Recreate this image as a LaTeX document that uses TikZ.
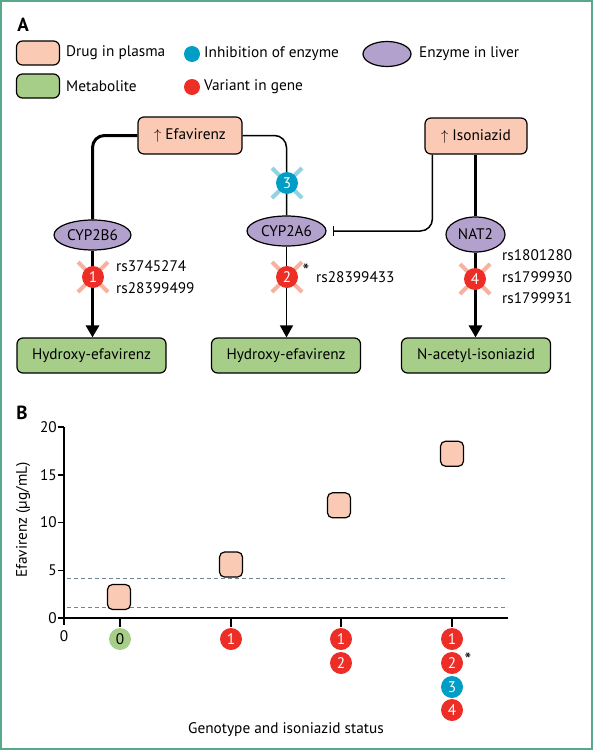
\documentclass[tikz,border=0pt]{standalone}
\usepackage{fontspec}
\setmainfont{PT Sans}
\usepackage{tikz}
\usetikzlibrary{shapes,arrows.meta,positioning}

\definecolor{plasmafill}{RGB}{250,202,180}
\definecolor{metafill}{RGB}{167,206,137}
\definecolor{liverfill}{RGB}{179,161,205}
\definecolor{varred}{RGB}{236,46,38}
\definecolor{inhblue}{RGB}{0,158,196}
\definecolor{varcross}{RGB}{246,178,158}
\definecolor{inhcross}{RGB}{146,211,226}
\definecolor{framegreen}{RGB}{88,168,138}
\definecolor{guidegray}{RGB}{110,135,150}

\begin{document}
\begin{tikzpicture}[x=1pt,y=-1pt,font=\fontsize{15.3}{21.5}\selectfont,
  drugbox/.style={draw,line width=1.2pt,rounded corners=6pt,fill=plasmafill,inner sep=0pt},
  metabox/.style={drugbox,fill=metafill},
  enzyme/.style={ellipse,draw,line width=1.2pt,fill=liverfill,inner sep=0pt},
  varnum/.style={circle,fill=varred,text=white,minimum size=22pt,inner sep=0pt},
  inhnum/.style={varnum,fill=inhblue},
  metnum/.style={varnum,fill=metafill,text=black},
  lbl/.style={anchor=west,inner sep=0pt,align=left},
  xmark/.style={line width=4pt,varcross},
  thickline/.style={line width=3pt},
  thinline/.style={line width=1.5pt},
  tip/.style={-{Triangle[width=13pt,length=12pt]}}]
\useasboundingbox (0,0) rectangle (593,750);
\draw[framegreen,line width=2pt] (1,1) rectangle (592,749);

% legend
\node[font=\bfseries\fontsize{19}{19}\selectfont] (labA) at (23,25) {A};
\node[drugbox,minimum width=43pt,minimum height=24pt] (keydrug) at (38,53) {};
\node[metabox,minimum width=43pt,minimum height=24pt] (keymet) at (38,86) {};
\node[lbl] (tdrug) at (66,53) {Drug in plasma};
\node[lbl] (tmet) at (66,86) {Metabolite};
\node[circle,fill=inhblue,minimum size=16pt,inner sep=0pt] (keyinh) at (192,54) {};
\node[circle,fill=varred,minimum size=16pt,inner sep=0pt] (keyvar) at (192,87) {};
\node[lbl] (tinh) at (204,54) {Inhibition of enzyme};
\node[lbl] (tvar) at (204,87) {Variant in gene};
\node[enzyme,minimum width=48pt,minimum height=25pt] (keyenz) at (387,54) {};
\node[lbl] (tenz) at (419,54) {Enzyme in liver};

% pathways
\node[drugbox,minimum width=104pt,minimum height=37pt] (efv) at (190,135.5) {$\uparrow$ Efavirenz};
\node[drugbox,minimum width=102pt,minimum height=36pt] (inh) at (476,136) {$\uparrow$ Isoniazid};
\node[enzyme,minimum width=77pt,minimum height=30pt] (cyp2b6) at (92.5,235) {CYP2B6};
\node[enzyme,minimum width=79pt,minimum height=30pt] (cyp2a6) at (286.5,231) {CYP2A6};
\node[enzyme,minimum width=59pt,minimum height=35pt] (nat2) at (475.5,234.5) {NAT2};
\node[metabox,minimum width=149pt,minimum height=35pt] (hyd1) at (91.5,355.5) {Hydroxy-efavirenz};
\node[metabox,minimum width=149pt,minimum height=35pt] (hyd2) at (286,355.5) {Hydroxy-efavirenz};
\node[metabox,minimum width=149pt,minimum height=35pt] (nac) at (476,355.5) {N-acetyl-isoniazid};

\draw[thickline,rounded corners=12pt] (efv.west) -| (cyp2b6.north);
\draw[thinline,rounded corners=12pt] (efv.east) -| (cyp2a6.north);
\draw[thickline,tip] (cyp2b6.south) -- (cyp2b6.south |- hyd1.north);
\draw[thinline,tip] (cyp2a6.south) -- (cyp2a6.south |- hyd2.north);
\draw[thickline] (nat2.north |- inh.south) -- (nat2.north);
\draw[thickline,tip] (nat2.south) -- (nat2.south |- nac.north);
\draw[thinline,rounded corners=12pt,-{Bar[width=10pt]}] ([xshift=8pt]inh.south west) |- ([xshift=6pt]cyp2a6.east);

\foreach \p in {(93,277),(287,277),(475,279)}
  \draw[xmark] \p ++(-15,-15) -- ++(30,30) \p ++(-15,15) -- ++(30,-30);
\draw[xmark,inhcross] (287,183) ++(-15,-15) -- ++(30,30) (287,183) ++(-15,15) -- ++(30,-30);

\node[varnum] (v1) at (93,277) {1};
\node[varnum] (v2) at (287,277) {2};
\node[inhnum] (v3) at (287,183) {3};
\node[varnum] (v4) at (475,279) {4};

\node[lbl] (rs1) at (116,277) {rs3745274\\rs28399499};
\node[font=\fontsize{19}{19}\selectfont] (ast2) at (306,271) {*};
\node[lbl] (rs2) at (316,277) {rs28399433};
\node[lbl] (rs4) at (502,277) {rs1801280\\rs1799930\\rs1799931};

% plot
\node[font=\bfseries\fontsize{19}{19}\selectfont] (labB) at (22,413) {B};
\draw[guidegray,line width=1pt,dash pattern=on 4pt off 3pt] (67,578) -- (508,578);
\draw[guidegray,line width=1pt,dash pattern=on 4pt off 3pt] (67,607) -- (508,607);
\draw[line width=1.5pt] (64,427) -- (64,625) (64,618) -- (508,618);
\foreach \v in {0,5,10,15,20} {
  \draw[line width=1.5pt] (58,{618-9.55*\v}) -- (64,{618-9.55*\v});
  \node[anchor=east,inner sep=0pt] (yt\v) at (57,{618-9.55*\v}) {\v};
}
\foreach \x in {120,231,341,452}
  \draw[line width=1.5pt] (\x,618) -- (\x,627);
\foreach \x/\v [count=\i] in {119/2.2,231/5.6,339/11.8,452/17.2}
  \node[drugbox,minimum width=23pt,minimum height=25pt,rounded corners=5pt] (sq\i) at (\x,{618-9.55*\v}) {};

\node (x0) at (64,636) {0};
\node[metnum] (g0) at (120,639) {0};
\node[varnum] (g1a) at (231,639) {1};
\node[varnum] (g2a) at (341,639) {1};
\node[varnum] (g2b) at (341,663) {2};
\node[varnum] (g3a) at (452,639) {1};
\node[varnum] (g3b) at (452,663) {2};
\node[inhnum] (g3c) at (452,687) {3};
\node[varnum] (g3d) at (452,710) {4};
\node[font=\fontsize{19}{19}\selectfont] (ast3) at (468,660) {*};

\node[rotate=90] (ylab) at (23,520) {Efavirenz (µg/mL)};
\node (xlab) at (286,730) {Genotype and isoniazid status};
\end{tikzpicture}
\end{document}
